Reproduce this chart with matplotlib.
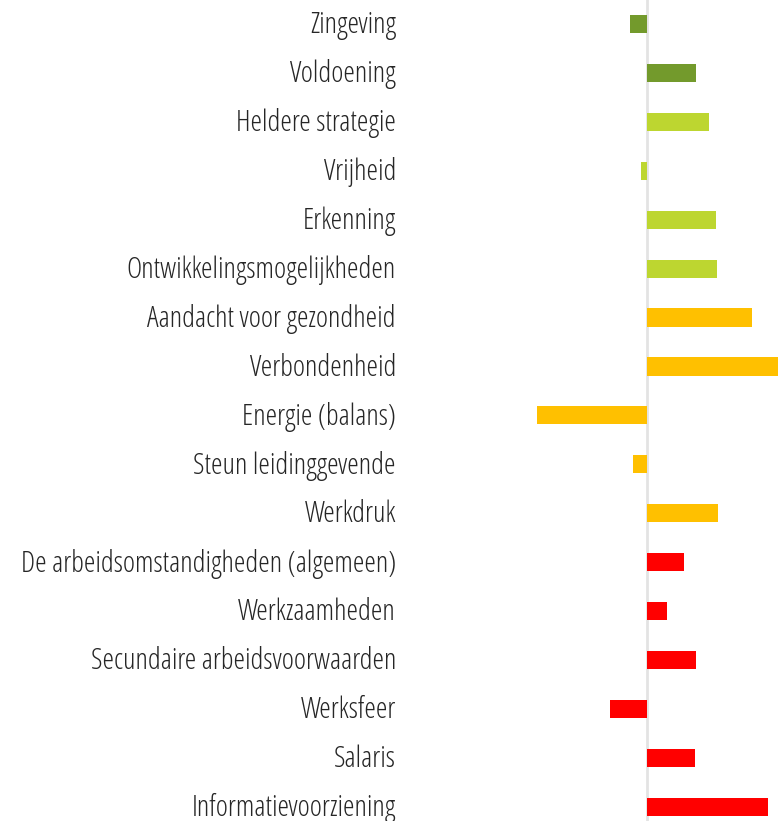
import matplotlib
matplotlib.use("Agg")
import matplotlib.pyplot as plt
from matplotlib import font_manager
from matplotlib.font_manager import FontProperties
from matplotlib.transforms import ScaledTranslation

categories = [
    "Zingeving", "Voldoening", "Heldere strategie", "Vrijheid", "Erkenning",
    "Ontwikkelingsmogelijkheden", "Aandacht voor gezondheid", "Verbondenheid",
    "Energie (balans)", "Steun leidinggevende", "Werkdruk",
    "De arbeidsomstandigheden (algemeen)", "Werkzaamheden",
    "Secundaire arbeidsvoorwaarden", "Werksfeer", "Salaris",
    "Informatievoorziening",
]
values = [-0.17, 0.49, 0.62, -0.06, 0.69, 0.70, 1.05, 1.31, -1.10, -0.14,
          0.71, 0.37, 0.20, 0.49, -0.37, 0.48, 1.21]
groups = ["g1", "g1", "g2", "g2", "g2", "g2", "g3", "g3", "g3", "g3", "g3",
          "g4", "g4", "g4", "g4", "g4", "g4"]
group_colors = {"g1": "#739A2C", "g2": "#BDD630", "g3": "#FFC000", "g4": "#FF0000"}


def pick_font():
    cands = []
    for f in font_manager.fontManager.ttflist:
        s = (str(f.stretch) + " " + f.name + " " + f.fname).lower()
        if ("condensed" in s or "narrow" in s) and "mono" not in s and "serif" not in f.name.lower().replace("sans", ""):
            w = f.weight if isinstance(f.weight, int) else 400
            if "italic" in f.fname.lower() or f.style != "normal":
                continue
            pref = 0 if "open" in f.name.lower() else (1 if "roboto" in f.name.lower() else 2)
            cands.append((pref, abs(w - 300), f.fname))
    if cands:
        cands.sort()
        return FontProperties(fname=cands[0][2])
    for f in font_manager.fontManager.ttflist:
        if f.name == "Open Sans" and f.weight in (300, "light") and f.style == "normal":
            return FontProperties(fname=f.fname)
    return FontProperties(family="Open Sans")


fp = pick_font()

fig = plt.figure(figsize=(7.8, 8.21), dpi=100)
ax = fig.add_axes([400 / 780, 0, 380 / 780, 1])

pos = list(range(len(categories)))
ax.barh(pos, values, height=0.37, color=[group_colors[g] for g in groups], zorder=2)
ax.axvline(0, color="#E3E3E3", lw=2.0, zorder=1)

ax.set_xlim(-2.47, 1.33)
ax.set_ylim(16.29, -0.49)
ax.set_yticks([])
ax.set_xticks([])
for s in ax.spines.values():
    s.set_visible(False)

# category labels, right-aligned just left of the plotting area
tr = ax.get_yaxis_transform() + ScaledTranslation(-0.04, 0.02, fig.dpi_scale_trans)
labels = [ax.text(0, p, c, transform=tr, ha="right", va="center_baseline",
                  fontproperties=fp, fontsize=20, color="#262626", clip_on=False)
          for p, c in zip(pos, categories)]

# fit the font size so the longest label spans about 377 px, capped at 21 pt
fig.canvas.draw()
r = fig.canvas.get_renderer()
wmax = max(t.get_window_extent(r).width for t in labels)
size = min(21, 20 * 377.5 / wmax)
for t in labels:
    t.set_fontsize(size)

fig.savefig("out.png", dpi=100)
